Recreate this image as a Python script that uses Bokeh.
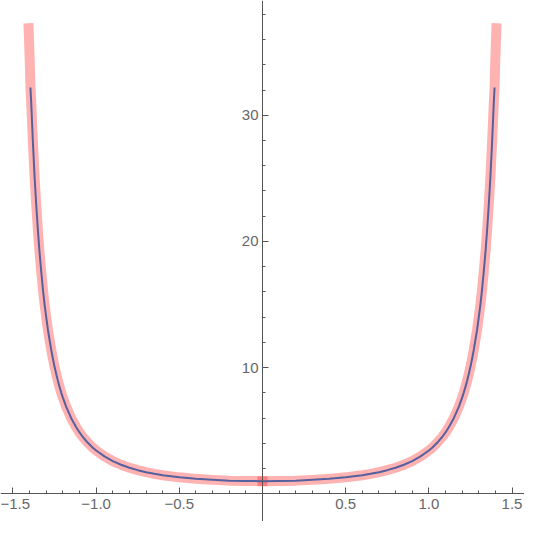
from bokeh.plotting import figure
from bokeh.models import FixedTicker, Range1d, CustomJSTickFormatter
from bokeh.embed import file_html
from bokeh.resources import INLINE

# right branch (x >= 0)
x_pos = [0.00, 0.10, 0.20, 0.30, 0.40, 0.50, 0.55, 0.60, 0.65, 0.70, 0.75,
         0.80, 0.85, 0.90, 0.95, 1.00, 1.02, 1.05, 1.08, 1.10, 1.12,
         1.15, 1.18, 1.20, 1.21, 1.22, 1.23, 1.24, 1.25, 1.26, 1.27,
         1.28, 1.29, 1.30, 1.31, 1.32, 1.33, 1.34, 1.35, 1.36, 1.37,
         1.38, 1.39, 1.395]
y_pos = [1.00, 1.01, 1.04, 1.10, 1.18, 1.30, 1.38, 1.47, 1.58, 1.71, 1.87,
         2.06, 2.30, 2.59, 2.96, 3.43, 3.65, 4.04, 4.50, 4.86, 5.27,
         5.99, 6.89, 7.62, 8.02, 8.47, 8.95, 9.49, 10.06, 10.7, 11.4,
         12.2, 13.0, 13.98, 15.0, 16.2, 17.6, 19.1, 20.85, 22.85, 25.1,
         27.8, 30.9, 32.2]

# left branch (x <= 0)
x_neg = [-1.395, -1.39, -1.38, -1.37, -1.36, -1.35, -1.34, -1.33, -1.32, -1.31,
         -1.30, -1.29, -1.28, -1.27, -1.26, -1.25, -1.24, -1.23, -1.22, -1.21,
         -1.20, -1.18, -1.15, -1.12, -1.10, -1.08, -1.05, -1.02, -1.00, -0.95,
         -0.90, -0.85, -0.80, -0.75, -0.70, -0.65, -0.60, -0.55, -0.50, -0.40,
         -0.30, -0.20, -0.10, 0.00]
y_neg = [32.2, 30.9, 27.8, 25.1, 22.85, 20.85, 19.1, 17.6, 16.2, 15.0,
         13.98, 13.0, 12.2, 11.4, 10.7, 10.06, 9.49, 8.95, 8.47, 8.02,
         7.62, 6.89, 5.99, 5.27, 4.86, 4.50, 4.04, 3.65, 3.43, 2.96,
         2.59, 2.30, 2.06, 1.87, 1.71, 1.58, 1.47, 1.38, 1.30, 1.18,
         1.10, 1.04, 1.01, 1.00]

# thick band extends a little further at both ends
band_tip_x_pos = [1.40, 1.406]
band_tip_y_pos = [34.6, 36.9]
band_tip_x_neg = [-1.406, -1.40]
band_tip_y_neg = [36.9, 34.6]

x_major = [-1.5, -1.0, -0.5, 0.5, 1.0, 1.5]
x_minor = [-1.4, -1.3, -1.2, -1.1, -0.9, -0.8, -0.7, -0.6, -0.4, -0.3, -0.2, -0.1,
           0.1, 0.2, 0.3, 0.4, 0.6, 0.7, 0.8, 0.9, 1.1, 1.2, 1.3, 1.4]
y_major = [10, 20, 30]
y_minor = [2, 4, 6, 8, 12, 14, 16, 18, 22, 24, 26, 28, 32, 34, 36, 38]

p = figure(width=524, height=521, x_range=Range1d(-1.575, 1.575),
           y_range=Range1d(-2.2, 39.1), output_backend="svg",
           toolbar_location=None, min_border=0)
p.outline_line_color = None
p.grid.visible = False
p.background_fill_color = "white"

band_color = "#ff0000"
p.line(band_tip_x_neg + x_neg, band_tip_y_neg + y_neg, line_color=band_color,
       line_alpha=0.3, line_width=10, line_cap="square", line_join="round")
p.line(x_pos + band_tip_x_pos, y_pos + band_tip_y_pos, line_color=band_color,
       line_alpha=0.3, line_width=10, line_cap="square", line_join="round")

p.line(x_neg + x_pos[1:], y_neg + y_pos[1:], line_color="#55609e", line_width=2,
       line_join="round")

ax_color = "#555555"
lab_color = "#666666"
for ax in (p.xaxis[0], p.yaxis[0]):
    ax.axis_line_color = ax_color
    ax.major_tick_line_color = ax_color
    ax.minor_tick_line_color = ax_color
    ax.major_tick_in = 6
    ax.major_tick_out = 0
    ax.minor_tick_in = 3
    ax.minor_tick_out = 0
    ax.major_label_text_color = lab_color
    ax.major_label_text_font = "Liberation Sans"
    ax.major_label_text_font_size = "15px"

p.xaxis.fixed_location = 0
p.yaxis.fixed_location = 0
p.xaxis.ticker = FixedTicker(ticks=x_major, minor_ticks=x_minor)
p.yaxis.ticker = FixedTicker(ticks=y_major, minor_ticks=y_minor)
p.xaxis.formatter = CustomJSTickFormatter(
    code='return (tick < 0 ? "\\u2212" : "") + Math.abs(tick).toFixed(1);')
p.yaxis.formatter = CustomJSTickFormatter(code='return tick.toFixed(0);')
p.xaxis.major_label_standoff = 5
p.yaxis.major_label_standoff = 4

open("out.html", "w").write(file_html(p, INLINE))
